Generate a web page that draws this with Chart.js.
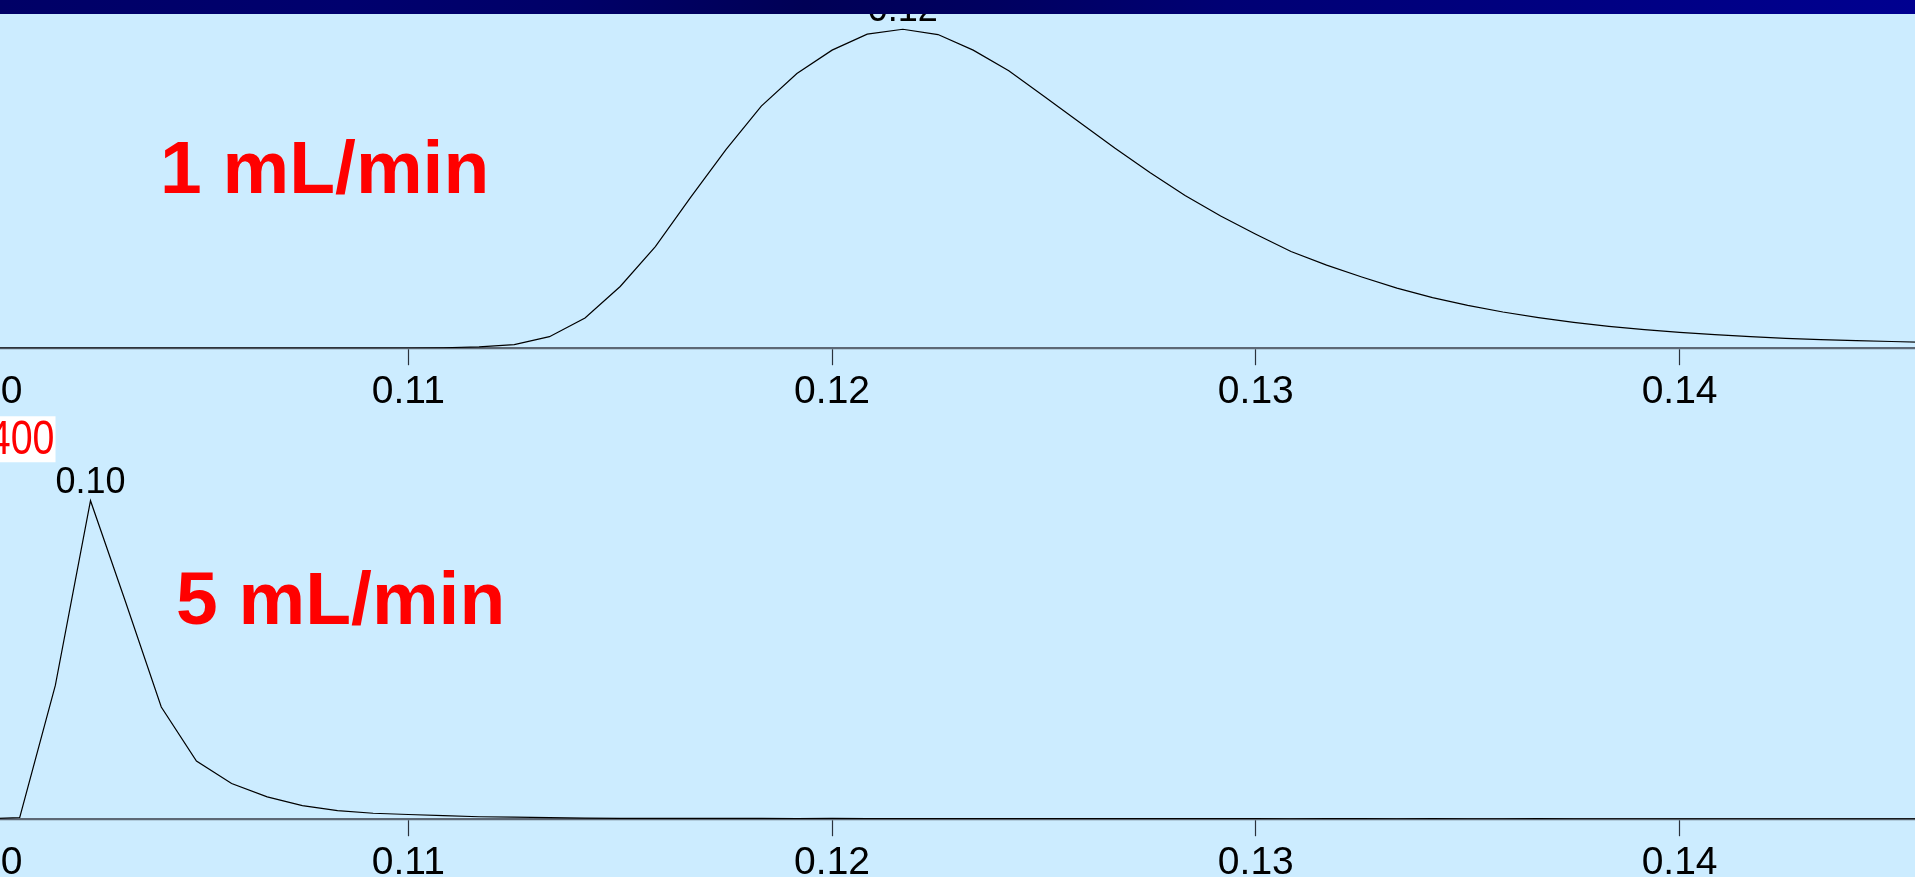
<!DOCTYPE html>
<html>
<head>
<meta charset="utf-8">
<script src="https://cdn.jsdelivr.net/npm/chart.js@4.4.0/dist/chart.umd.min.js"></script>
<style>
  html, body { margin: 0; padding: 0; width: 1915px; height: 877px; overflow: hidden; background: #CCECFF; }
  #band {
    position: absolute; left: 0; top: 0; width: 1915px; height: 14px; z-index: 5;
    background: linear-gradient(100deg, #000066 0%, #00006e 18%, #000068 30%, #000056 42%, #000060 52%, #000074 64%, #00007e 78%, #000088 90%, #000090 100%);
  }
  .panel { position: absolute; left: -80px; }
  .flow {
    position: absolute; z-index: 3; white-space: nowrap; color: #FF0000;
    font: bold 75px "Liberation Sans", Arial, sans-serif; line-height: 1;
  }
</style>
</head>
<body>
<div id="band"></div>
<div class="panel" id="wrapTop"><canvas id="chartTop" width="2075" height="440"></canvas></div>
<div class="panel" id="wrapBottom"><canvas id="chartBottom" width="2075" height="480"></canvas></div>
<div class="flow" style="left:160px; top:130px;">1 mL/min</div>
<div class="flow" style="left:176px; top:561px;">5 mL/min</div>

<script>
// Elution time (x axis)
const times = [
  0.10000, 0.10083, 0.10167, 0.10250, 0.10333, 0.10417, 0.10500, 0.10583,
  0.10667, 0.10750, 0.10833, 0.10917, 0.11000, 0.11083, 0.11167, 0.11250,
  0.11333, 0.11417, 0.11500, 0.11583, 0.11667, 0.11750, 0.11833, 0.11917,
  0.12000, 0.12083, 0.12167, 0.12250, 0.12333, 0.12417, 0.12500, 0.12583,
  0.12667, 0.12750, 0.12833, 0.12917, 0.13000, 0.13083, 0.13167, 0.13250,
  0.13333, 0.13417, 0.13500, 0.13583, 0.13667, 0.13750, 0.13833, 0.13917,
  0.14000, 0.14083, 0.14167, 0.14250, 0.14333, 0.14417, 0.14500, 0.14583
];

// Detector signal at 1 mL/min
const flow1 = [
  0, 0, 0, 0, 0, 0, 0, 0, 0, 0,
  0.1, 0.1, 0.2, 0.5, 1.3, 3.7, 12.2, 31.9, 65.3, 107.6,
  160.1, 210.5, 256.3, 290.8, 315.5, 332.4, 337.6, 332.0, 315.5, 293.6,
  266.8, 239.4, 211.9, 186.0, 161.7, 140.0, 120.7, 102.3, 87.9, 75.4,
  63.6, 53.6, 45.4, 38.3, 32.4, 27.4, 23.2, 19.7, 16.8, 14.3,
  12.2, 10.5, 9.1, 8.0, 7.1, 6.2
];

// Detector signal at 5 mL/min
const flow5 = [
  0.3, 1.8, 141.6, 337.1, 229.6, 118.7, 61.6, 37.7, 23.6, 14.3,
  9.0, 6.3, 5.0, 3.7, 2.6, 2.1, 1.6, 1.1, 0.9, 0.9,
  0.8, 0.8, 0.8, 0.7, 0.8, 0.7, 0.7, 0.7, 0.6, 0.7,
  0.7, 0.6, 0.6, 0.7, 0.6, 0.6, 0.6, 0.5, 0.6, 0.6,
  0.5, 0.6, 0.5, 0.5, 0.6, 0.5, 0.5, 0.5, 0.4, 0.5,
  0.5, 0.4, 0.5, 0.4, 0.4, 0.4
];

// Axis tick positions
const tickValues = [0.10, 0.11, 0.12, 0.13, 0.14];

// Full-scale value marked on the lower trace
const signalMark = 400;

// Scale geometry (page pixels)
const PANEL_LEFT = -80;
const X_PX_PER_UNIT = 42400;
const X_ANCHOR = 0.12, X_ANCHOR_PX = 832;
const Y_PX_PER_UNIT = 378.5 / 400;
const FONT = '"Liberation Sans", Arial, sans-serif';

// Writes the retention time above the highest point of the trace
const peakLabel = {
  id: 'peakLabel',
  afterDatasetsDraw(chart) {
    const ds = chart.data.datasets[0];
    const meta = chart.getDatasetMeta(0);
    let k = 0;
    ds.data.forEach((p, i) => { if (p.y > ds.data[k].y) k = i; });
    const pt = meta.data[k];
    const ctx = chart.ctx;
    ctx.save();
    ctx.font = '36px ' + FONT;
    ctx.fillStyle = '#000';
    ctx.textAlign = 'center';
    ctx.textBaseline = 'alphabetic';
    ctx.fillText(ds.data[k].x.toFixed(2), pt.x, pt.y - 8);
    ctx.restore();
  }
};

// Red full-scale value on a white box at the left edge
const scaleMark = {
  id: 'scaleMark',
  afterDraw(chart, args, opts) {
    if (opts.value == null) return;
    const y = chart.scales.y.getPixelForValue(opts.value);
    const right = opts.pageRight - PANEL_LEFT;
    const txt = String(opts.value);
    const sx = 0.82;
    const ctx = chart.ctx;
    ctx.save();
    ctx.font = '48px ' + FONT;
    const w = ctx.measureText(txt).width * sx;
    ctx.fillStyle = '#FFFFFF';
    ctx.fillRect(right - w - 3, y - 25, w + 4, 46);
    ctx.translate(right, y);
    ctx.scale(sx, 1);
    ctx.fillStyle = '#FF0000';
    ctx.textAlign = 'right';
    ctx.textBaseline = 'middle';
    ctx.fillText(txt, 0, 0);
    ctx.restore();
  }
};

function buildPanel(canvasId, wrapId, values, baseline, mark) {
  const chart = new Chart(document.getElementById(canvasId), {
    type: 'line',
    data: {
      datasets: [{
        data: times.map((t, i) => ({ x: t, y: values[i] })),
        borderColor: '#000000',
        borderWidth: 1.2,
        pointRadius: 0,
        tension: 0,
        fill: false
      }]
    },
    options: {
      responsive: false,
      animation: false,
      devicePixelRatio: 1,
      layout: { padding: 0 },
      plugins: {
        legend: { display: false },
        tooltip: { enabled: false },
        scaleMark: { value: mark, pageRight: 54.5 }
      },
      scales: {
        x: {
          type: 'linear',
          min: 0.095,
          max: 0.15,
          afterBuildTicks: s => { s.ticks = tickValues.map(v => ({ value: v })); },
          ticks: {
            callback: v => v.toFixed(2),
            font: { family: FONT, size: 39 },
            color: '#000000',
            padding: 4,
            maxRotation: 0,
            autoSkip: false
          },
          grid: { drawOnChartArea: false, drawTicks: true, tickLength: 17, tickColor: '#2a323c', tickWidth: 1.2 },
          border: { display: true, color: '#5d6875', width: 2.2 }
        },
        y: { display: false, min: 0, max: 400 }
      }
    },
    plugins: [peakLabel, scaleMark]
  });

  // Fit scale ranges so both panels share the same time and signal mapping
  const ca = chart.chartArea;
  const xMin = X_ANCHOR + (PANEL_LEFT + ca.left - X_ANCHOR_PX) / X_PX_PER_UNIT;
  chart.options.scales.x.min = xMin;
  chart.options.scales.x.max = xMin + (ca.right - ca.left) / X_PX_PER_UNIT;
  chart.options.scales.y.max = (ca.bottom - ca.top) / Y_PX_PER_UNIT;
  document.getElementById(wrapId).style.top = (baseline - ca.bottom) + 'px';
  chart.update('none');
  return chart;
}

buildPanel('chartTop', 'wrapTop', flow1, 348.5, null);
buildPanel('chartBottom', 'wrapBottom', flow5, 819, signalMark);
</script>
</body>
</html>
